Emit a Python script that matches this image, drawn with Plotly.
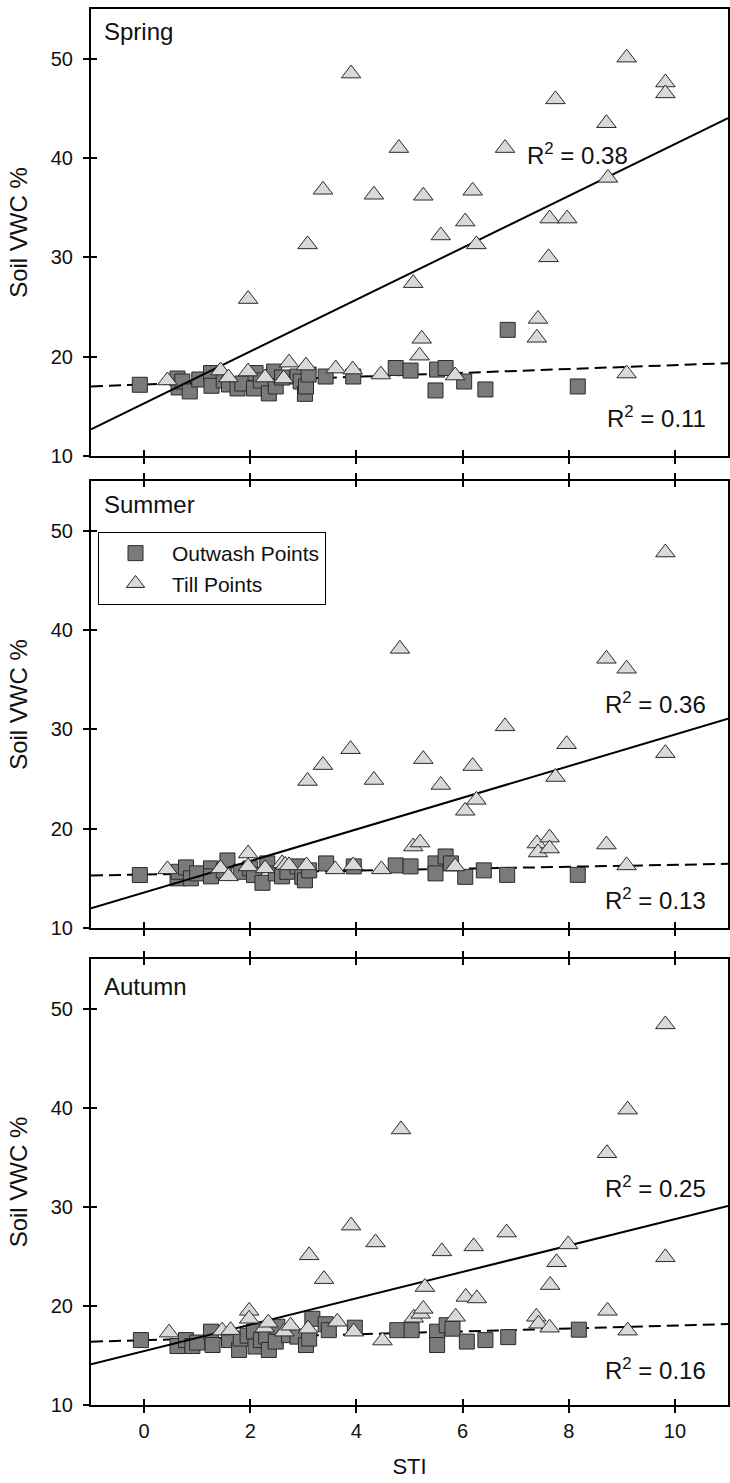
import plotly.graph_objects as go

# ---------------------------------------------------------------- data
seasons = ["Spring", "Summer", "Autumn"]

spring_outwash_sti = [-0.08, 0.63, 0.65, 0.72, 0.86, 1.04, 1.26, 1.27, 1.50, 1.60, 1.76, 1.85,
                      2.07, 2.10, 2.20, 2.35, 2.45, 2.48, 2.60, 2.89, 2.95, 3.03, 3.05, 3.10,
                      3.42, 3.94, 4.74, 5.02, 5.49, 5.52, 5.68, 6.03, 6.43, 6.85, 8.17]
spring_outwash_vwc = [17.17, 17.8, 16.9, 17.5, 16.5, 17.7, 18.35, 17.07, 17.6, 17.2, 16.8, 17.3,
                      16.8, 18.35, 17.6, 16.3, 18.5, 17.0, 17.9, 18.0, 17.5, 16.26, 17.0, 18.2,
                      18.0, 18.0, 18.86, 18.6, 16.6, 18.7, 18.86, 17.5, 16.7, 22.7, 17.0]

spring_till_sti = [0.44, 1.44, 1.59, 1.96, 1.96, 2.28, 2.63, 2.73, 3.05, 3.08, 3.37, 3.61, 3.90,
                   3.93, 4.33, 4.46, 4.80, 5.07, 5.19, 5.23, 5.26, 5.59, 5.86, 6.05, 6.19, 6.26,
                   6.80, 7.40, 7.42, 7.62, 7.64, 7.75, 7.97, 8.71, 8.74, 9.09, 9.09, 9.82, 9.82]
spring_till_vwc = [17.6, 18.6, 17.9, 18.5, 25.8, 17.9, 17.8, 19.4, 19.1, 31.3, 36.8, 18.8, 48.5,
                   18.7, 36.3, 18.2, 41.0, 27.4, 20.1, 21.8, 36.2, 32.2, 18.1, 33.6, 36.7, 31.3,
                   41.0, 21.9, 23.8, 30.0, 33.9, 45.9, 33.9, 43.5, 38.0, 50.1, 18.3, 47.6, 46.5]

summer_outwash_sti = [-0.08, 0.63, 0.65, 0.79, 0.88, 1.00, 1.26, 1.26, 1.50, 1.57, 1.82, 2.00,
                      2.07, 2.23, 2.32, 2.48, 2.60, 2.70, 2.89, 2.98, 3.03, 3.11, 3.43, 3.95,
                      4.74, 5.02, 5.49, 5.49, 5.68, 5.78, 6.05, 6.40, 6.84, 8.17]
summer_outwash_vwc = [15.33, 15.0, 15.66, 16.1, 15.0, 15.5, 16.0, 15.2, 15.8, 16.8, 15.66, 16.0,
                      15.33, 14.55, 16.5, 15.5, 15.2, 15.66, 16.2, 15.15, 14.8, 15.8, 16.5, 16.2,
                      16.3, 16.2, 16.5, 15.5, 17.2, 16.5, 15.15, 15.8, 15.35, 15.35]

summer_till_sti = [0.44, 1.44, 1.59, 1.96, 1.96, 2.28, 2.60, 2.66, 2.73, 3.06, 3.08, 3.37, 3.60,
                   3.89, 3.94, 4.33, 4.47, 4.82, 5.07, 5.20, 5.26, 5.59, 5.86, 6.05, 6.19, 6.26,
                   6.80, 7.40, 7.42, 7.64, 7.64, 7.75, 7.96, 8.71, 8.71, 9.09, 9.09, 9.82, 9.82]
summer_till_vwc = [15.9, 16.0, 15.2, 16.2, 17.5, 16.0, 16.5, 16.35, 16.3, 16.3, 24.8, 26.4, 15.9,
                   28.0, 16.3, 24.9, 15.9, 38.1, 18.2, 18.6, 27.0, 24.4, 16.2, 21.8, 26.3, 22.9,
                   30.3, 18.5, 17.6, 19.1, 18.0, 25.2, 28.5, 37.1, 18.4, 36.1, 16.3, 47.8, 27.6]

autumn_outwash_sti = [-0.06, 0.63, 0.79, 0.91, 1.00, 1.26, 1.29, 1.60, 1.79, 1.82, 1.95, 2.07,
                      2.10, 2.20, 2.30, 2.35, 2.48, 2.51, 2.73, 2.89, 3.05, 3.11, 3.17, 3.42,
                      3.48, 3.97, 4.77, 5.04, 5.52, 5.52, 5.70, 5.81, 6.08, 6.43, 6.86, 8.19]
autumn_outwash_vwc = [16.55, 15.95, 16.55, 15.95, 16.3, 17.4, 16.05, 16.55, 15.55, 16.7, 17.0, 17.4,
                      15.9, 16.55, 16.9, 15.55, 16.4, 17.9, 17.05, 16.9, 16.05, 16.7, 18.7, 18.15,
                      17.55, 17.8, 17.55, 17.55, 17.4, 16.05, 18.05, 17.7, 16.4, 16.55, 16.85, 17.6]

autumn_till_sti = [0.47, 1.47, 1.63, 1.98, 1.98, 2.27, 2.34, 2.64, 2.76, 3.09, 3.11, 3.39, 3.64,
                   3.90, 3.95, 4.36, 4.49, 4.84, 5.08, 5.21, 5.26, 5.29, 5.61, 5.87, 6.06, 6.21,
                   6.27, 6.83, 7.39, 7.43, 7.64, 7.65, 7.77, 7.99, 8.72, 8.73, 9.11, 9.11, 9.82, 9.82]
autumn_till_vwc = [17.3, 17.5, 17.55, 19.5, 18.7, 17.8, 18.3, 17.4, 18.0, 17.7, 25.1, 22.7, 18.4,
                   28.1, 17.4, 26.4, 16.5, 37.8, 18.8, 19.2, 19.7, 21.9, 25.5, 18.9, 20.9, 26.0,
                   20.75, 27.4, 18.9, 18.2, 17.8, 22.1, 24.4, 26.2, 35.4, 19.5, 39.8, 17.5, 48.4, 24.9]

# linear regression coefficients (VWC = intercept + slope * STI) per season
till_fit_slope = [2.61, 1.59, 1.33]
till_fit_intercept = [15.3, 13.57, 15.45]
outwash_fit_slope = [0.195, 0.098, 0.148]
outwash_fit_intercept = [17.2, 15.38, 16.54]

till_r2 = ["0.38", "0.36", "0.25"]
outwash_r2 = ["0.11", "0.13", "0.16"]

x_ticks = [0, 2, 4, 6, 8, 10]
y_ticks = [10, 20, 30, 40, 50]
x_range = [-1, 11]
y_range = [10, 55]

outwash = [(spring_outwash_sti, spring_outwash_vwc),
           (summer_outwash_sti, summer_outwash_vwc),
           (autumn_outwash_sti, autumn_outwash_vwc)]
till = [(spring_till_sti, spring_till_vwc),
        (summer_till_sti, summer_till_vwc),
        (autumn_till_sti, autumn_till_vwc)]

# ---------------------------------------------------------------- layout geometry
W, H = 730, 1483
M_L, M_R, M_T, M_B = 91, 2, 9, 78
plot_w = W - M_L - M_R
plot_h = H - M_T - M_B
panel_px = [(9, 456), (481, 928), (959, 1405)]   # top / bottom of each panel
season_label_y = [0.95, 0.947, 0.938]


def y_domain(top, bottom):
    return [(H - M_B - bottom) / plot_h, (H - M_B - top) / plot_h]


FONT = "Liberation Sans, Arial, sans-serif"
INK = "#111111"
SQUARE_FILL = "#7a7a7a"
TRI_FILL = "#d9d9d9"
EDGE = "#2a2a2a"

fig = go.Figure()
layout = dict(
    width=W, height=H,
    margin=dict(l=M_L, r=M_R, t=M_T, b=M_B, pad=0),
    paper_bgcolor="white", plot_bgcolor="white",
    font=dict(family=FONT, size=20, color=INK),
    showlegend=True,
    annotations=[],
)

for i, season in enumerate(seasons):
    sfx = "" if i == 0 else str(i + 1)
    xa, ya = "x" + sfx, "y" + sfx
    fx = [x_range[0], x_range[1]]

    # outwash regression (dashed)
    fig.add_trace(go.Scatter(
        x=fx, y=[outwash_fit_intercept[i] + outwash_fit_slope[i] * v for v in fx],
        mode="lines", line=dict(color="black", width=2, dash="12px,6px"),
        xaxis=xa, yaxis=ya, showlegend=False, hoverinfo="skip"))

    # outwash points
    fig.add_trace(go.Scatter(
        x=outwash[i][0], y=outwash[i][1], mode="markers", name="Outwash Points",
        marker=dict(symbol="square", size=15, color=SQUARE_FILL,
                    line=dict(color=EDGE, width=1)),
        xaxis=xa, yaxis=ya, showlegend=(i == 1), legendrank=1))

    # till regression (solid)
    fig.add_trace(go.Scatter(
        x=fx, y=[till_fit_intercept[i] + till_fit_slope[i] * v for v in fx],
        mode="lines", line=dict(color="black", width=2),
        xaxis=xa, yaxis=ya, showlegend=False, hoverinfo="skip"))

    # till points
    fig.add_trace(go.Scatter(
        x=till[i][0], y=till[i][1], mode="markers", name="Till Points",
        marker=dict(symbol="triangle-up", size=17, color=TRI_FILL,
                    line=dict(color=EDGE, width=1)),
        xaxis=xa, yaxis=ya, showlegend=(i == 1), legendrank=2))

    dom = y_domain(*panel_px[i])
    bottom_panel = (i == len(seasons) - 1)

    xaxis = dict(
        range=x_range, tickvals=x_ticks, ticks="outside", ticklen=6, tickwidth=1.5,
        tickcolor="black", showline=True, linecolor="black", linewidth=2,
        mirror=True if i == 0 else "ticks", showgrid=False, zeroline=False,
        anchor=ya, domain=[0, 1], showticklabels=bottom_panel, automargin=False,
        tickfont=dict(size=20, family=FONT, color=INK),
    )
    if bottom_panel:
        xaxis["ticklabelstandoff"] = 1
        xaxis["title"] = dict(text="STI", font=dict(size=22, family=FONT, color=INK),
                              standoff=18)
    yaxis = dict(
        range=y_range, tickvals=y_ticks, ticks="outside", ticklen=6, tickwidth=1.5,
        tickcolor="black", showline=True, linecolor="black", linewidth=2, mirror=True,
        showgrid=False, zeroline=False, anchor=xa, domain=dom, automargin=False,
        ticklabelstandoff=6,
        tickfont=dict(size=20, family=FONT, color=INK),
        title=dict(text="Soil VWC %", font=dict(size=24, family=FONT, color=INK), standoff=16),
    )
    layout["xaxis" + sfx] = xaxis
    layout["yaxis" + sfx] = yaxis

    # overlay axes giving the inward half of each tick mark
    osfx = str(i + 4)
    layout["xaxis" + osfx] = dict(
        overlaying=xa, anchor="y" + osfx, range=x_range, tickvals=x_ticks, ticks="inside",
        ticklen=6, tickwidth=1.5, tickcolor="black", showline=False,
        mirror=False if i == 0 else "ticks", showticklabels=False, showgrid=False,
        zeroline=False, automargin=False)
    layout["yaxis" + osfx] = dict(
        overlaying=ya, anchor="x" + osfx, range=y_range, tickvals=y_ticks, ticks="inside",
        ticklen=6, tickwidth=1.5, tickcolor="black", showline=False, mirror=False,
        showticklabels=False, showgrid=False, zeroline=False, automargin=False)
    fig.add_trace(go.Scatter(x=[None], y=[None], xaxis="x" + osfx, yaxis="y" + osfx,
                             showlegend=False, hoverinfo="skip"))

    # season label
    layout["annotations"].append(dict(
        text=season, xref=xa + " domain", yref=ya + " domain", x=0.018, y=season_label_y[i],
        xanchor="left", yanchor="middle", showarrow=False,
        font=dict(size=24, family=FONT, color=INK)))

# R² labels
r2_till_pos = [(7.18, 40.4, "left"), (10.63, 32.7, "right"), (10.63, 32.0, "right")]
r2_out_pos = [(10.63, 13.96), (10.63, 12.9), (10.63, 13.66)]
for i in range(3):
    sfx = "" if i == 0 else str(i + 1)
    tx, ty, anc = r2_till_pos[i]
    layout["annotations"].append(dict(
        text="R<sup>2</sup> = " + till_r2[i], xref="x" + sfx, yref="y" + sfx, x=tx, y=ty,
        xanchor=anc, yanchor="middle", showarrow=False,
        font=dict(size=24, family=FONT, color=INK)))
    ox, oy = r2_out_pos[i]
    layout["annotations"].append(dict(
        text="R<sup>2</sup> = " + outwash_r2[i], xref="x" + sfx, yref="y" + sfx, x=ox, y=oy,
        xanchor="right", yanchor="middle", showarrow=False,
        font=dict(size=24, family=FONT, color=INK)))

layout["legend"] = dict(
    x=(98 - M_L) / plot_w, y=(H - M_B - 532) / plot_h, xanchor="left", yanchor="top",
    bgcolor="white", bordercolor="black", borderwidth=1,
    font=dict(size=21, family=FONT, color=INK), itemwidth=63, traceorder="normal",
)

fig.update_layout(**layout)
fig.write_html("out.html")
